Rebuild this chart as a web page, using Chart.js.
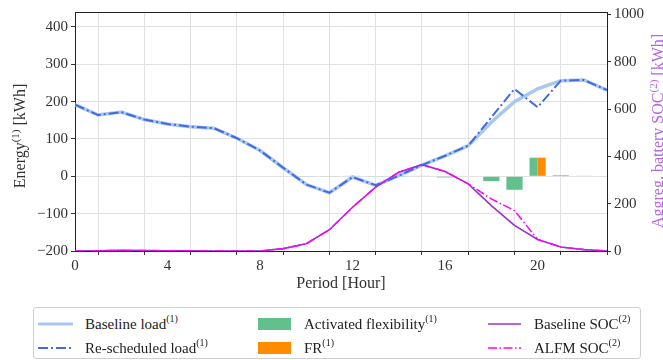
<!DOCTYPE html>
<html><head><meta charset="utf-8">
<script src="https://cdn.jsdelivr.net/npm/chart.js@4"></script>
<style>
html,body{margin:0;padding:0;background:#fff;}
#wrap{position:relative;width:663px;height:360px;overflow:hidden;}
canvas{position:absolute;left:0;top:0;}
#legend{position:absolute;left:33px;top:307px;width:606px;height:50px;border:1px solid #cfcfcf;border-radius:3px;background:#fff;font-family:"Liberation Serif",serif;font-size:15px;color:#222;}
.item{position:absolute;height:20px;line-height:20px;white-space:nowrap;}
.item svg{position:absolute;left:0;top:0;}
.item span{position:absolute;top:0;}
sup{font-size:10px;vertical-align:top;position:relative;top:-5px;}
</style></head>
<body>
<div id="wrap">
<canvas id="c" width="663" height="360"></canvas>
<div id="legend">
  <div class="item" style="left:4px;top:6px;"><svg width="36" height="20"><line x1="0" y1="10" x2="35" y2="10" stroke="#a9c8f0" stroke-width="3"/></svg><span style="left:47px">Baseline load<sup>(1)</sup></span></div>
  <div class="item" style="left:4px;top:30px;"><svg width="36" height="20"><line x1="0" y1="10" x2="35" y2="10" stroke="#4169e1" stroke-width="2" stroke-dasharray="10,3,2,3"/></svg><span style="left:47px">Re-scheduled load<sup>(1)</sup></span></div>
  <div class="item" style="left:224px;top:6px;"><svg width="36" height="20"><rect x="0" y="4" width="33" height="12" fill="#62c08c"/></svg><span style="left:46px">Activated flexibility<sup>(1)</sup></span></div>
  <div class="item" style="left:224px;top:30px;"><svg width="36" height="20"><rect x="0" y="4" width="33" height="12" fill="#ff8c00"/></svg><span style="left:46px">FR<sup>(1)</sup></span></div>
  <div class="item" style="left:454px;top:6px;"><svg width="36" height="20"><line x1="0" y1="10" x2="33" y2="10" stroke="#9b30d0" stroke-width="1.6"/></svg><span style="left:46px">Baseline SOC<sup>(2)</sup></span></div>
  <div class="item" style="left:454px;top:30px;"><svg width="36" height="20"><line x1="0" y1="10" x2="33" y2="10" stroke="#ff00ff" stroke-width="1.5" stroke-dasharray="9,2.5,1.5,2.5"/></svg><span style="left:46px">ALFM SOC<sup>(2)</sup></span></div>
</div>
</div>
<script>
// ---- data ----
const hours = [0,1,2,3,4,5,6,7,8,9,10,11,12,13,14,15,16,17,18,19,20,21,22,23];
const baselineLoad = [192,164,172,152,140,133,129,102,69,23,-22,-44,-2,-24,2,30,55,82,145,200,234,256,258,231];
const rescheduledLoad = [192,164,172,152,140,133,129,102,69,23,-22,-44,-2,-24,2,30,55,82,158,234,185,256,258,231];
const activatedFlex = [null,null,null,null,null,null,null,null,null,null,-1,-1,1,-1,-1,1,-3,null,-13,-36,50,3,1,null];
const frValues = [null,null,null,null,null,null,null,null,null,null,null,null,null,null,null,null,null,null,null,null,50,null,null,null];
const baselineSOC = [0,1,3,2,1,1,0,0,0,10,31,90,185,270,333,365,336,284,192,108,49,17,6,0];
const alfmSOC = [0,1,3,2,1,1,0,0,0,10,31,90,185,270,333,365,336,284,220,171,49,17,6,0];
const xGrid = [0,2,4,6,8,10,12,14,16,18,20,22];
const xTickLabels = [0,4,8,12,16,20];
const yTicks = [-200,-100,0,100,200,300,400];
const y2Ticks = [0,200,400,600,800,1000];

const pts = arr => hours.map((h,i)=>({x:h,y:arr[i]}));
Chart.defaults.font.family = 'Liberation Serif';
Chart.defaults.font.size = 15;
Chart.defaults.color = '#333';

function drawRich(ctx, parts, cx, cy, rot, color){
  const base='16px "Liberation Serif"', sup='11px "Liberation Serif"';
  ctx.save(); ctx.translate(cx,cy); ctx.rotate(rot);
  let w=0; for(const p of parts){ctx.font=p.s?sup:base; w+=ctx.measureText(p.t).width;}
  let x=-w/2; ctx.fillStyle=color; ctx.textBaseline='middle'; ctx.textAlign='left';
  for(const p of parts){ctx.font=p.s?sup:base; ctx.fillText(p.t,x,p.s?-5:0); x+=ctx.measureText(p.t).width;}
  ctx.restore();
}

const deco = {
  id:'deco',
  afterDraw(chart){
    const ctx=chart.ctx, a=chart.chartArea;
    ctx.save();
    ctx.strokeStyle='#222'; ctx.lineWidth=1;
    ctx.beginPath(); ctx.moveTo(a.left, a.top+0.5); ctx.lineTo(a.right, a.top+0.5); ctx.stroke();
    ctx.restore();
    drawRich(ctx,[{t:'Energy'},{t:'(1)',s:1},{t:' [kWh]'}], 21, 136, -Math.PI/2, '#333');
    drawRich(ctx,[{t:'Period [Hour]'}], (a.left+a.right)/2, 284, 0, '#333');
    drawRich(ctx,[{t:'Aggreg. battery SOC'},{t:'(2)',s:1},{t:' [kWh]'}], 659, 131, -Math.PI/2, '#b466e3');
  }
};

const tickFont = {family:'Liberation Serif', size:15};
new Chart(document.getElementById('c'), {
  type:'bar',
  data:{datasets:[
    {type:'line', label:'Re-scheduled load', data:pts(rescheduledLoad), borderColor:'#4169e1', borderWidth:2, borderDash:[10,3,2,3], pointRadius:0, tension:0, yAxisID:'y', order:0, fill:false},
    {type:'line', label:'ALFM SOC', data:pts(alfmSOC), borderColor:'#ff00ff', borderWidth:1.5, borderDash:[9,2.5,1.5,2.5], pointRadius:0, tension:0, yAxisID:'y2', order:1, fill:false},
    {type:'line', label:'Baseline SOC', data:pts(baselineSOC), borderColor:'#9b30d0', borderWidth:1.6, pointRadius:0, tension:0, yAxisID:'y2', order:2, fill:false},
    {type:'line', label:'Baseline load', data:pts(baselineLoad), borderColor:'#a9c8f0', borderWidth:3.5, pointRadius:0, tension:0, yAxisID:'y', order:3, fill:false},
    {type:'bar', label:'Activated flexibility', data:pts(activatedFlex), backgroundColor:'#62c08c', borderWidth:0, yAxisID:'y', order:4, skipNull:true, categoryPercentage:0.7, barPercentage:1},
    {type:'bar', label:'FR', data:pts(frValues), backgroundColor:'#ff8c00', borderWidth:0, yAxisID:'y', order:5, skipNull:true, categoryPercentage:0.7, barPercentage:1}
  ]},
  options:{
    responsive:false, animation:false, devicePixelRatio:1,
    layout:{padding:{top:11,left:0,right:0,bottom:0}},
    plugins:{legend:{display:false}, tooltip:{enabled:false}},
    scales:{
      x:{type:'linear', position:'bottom', min:0, max:23, offset:false,
         afterBuildTicks:s=>{s.ticks=xGrid.map(v=>({value:v}));},
         afterFit:s=>{s.height=109;},
         ticks:{autoSkip:false, maxRotation:0, padding:2, color:'#333', font:tickFont,
                callback:v=>xTickLabels.includes(v)?String(v):''},
         grid:{color:'#e2e2e2', tickColor:'#333', tickLength:4, lineWidth:1},
         border:{display:true, color:'#222', width:1}},
      y:{type:'linear', position:'left', min:-200, max:440,
         afterBuildTicks:s=>{s.ticks=yTicks.map(v=>({value:v}));},
         afterFit:s=>{s.width=75;},
         ticks:{padding:3, color:'#333', font:tickFont, callback:v=>v<0?'\u2212'+Math.abs(v):String(v)},
         grid:{color:'#e2e2e2', tickColor:'#333', tickLength:4, lineWidth:1},
         border:{display:true, color:'#222', width:1}},
      y2:{type:'linear', position:'right', min:0, max:1010,
         afterBuildTicks:s=>{s.ticks=y2Ticks.map(v=>({value:v}));},
         afterFit:s=>{s.width=56;},
         ticks:{padding:3, color:'#333', font:tickFont, callback:v=>String(v)},
         grid:{drawOnChartArea:false, tickColor:'#333', tickLength:4},
         border:{display:true, color:'#222', width:1}}
    }
  },
  plugins:[deco]
});
</script>
</body></html>
